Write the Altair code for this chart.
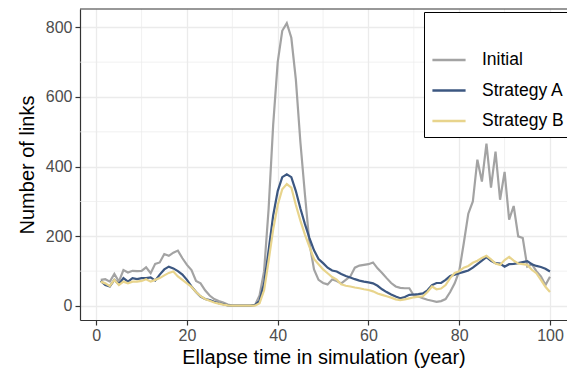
import altair as alt
import pandas as pd

years = list(range(1, 101))

initial = [75, 77, 70, 92, 70, 103, 96, 101, 100, 101,
           111, 94, 121, 125, 149, 144, 153, 159, 137, 118,
           103, 72, 65, 45, 30, 20, 14, 10, 4, 1,
           1, 1, 1, 1, 3, 30, 100, 280, 520, 700,
           790, 812, 770, 650, 470, 320, 180, 105, 75, 66,
           62, 76, 72, 65, 75, 85, 110, 116, 118, 120,
           125, 108, 95, 80, 66, 56, 52, 51, 51, 30,
           27, 22, 18, 15, 12, 14, 20, 40, 65, 100,
           180, 265, 300, 420, 357, 466, 340, 443, 305, 385,
           248, 287, 200, 195, 113, 120, 100, 85, 60, 84]

strategy_a = [72, 60, 56, 75, 63, 80, 70, 80, 77, 80,
              80, 82, 73, 90, 105, 113, 108, 100, 90, 75,
              56, 40, 27, 20, 17, 12, 8, 5, 2, 1,
              1, 1, 1, 1, 3, 15, 65, 160, 260, 330,
              370, 378, 370, 330, 280, 235, 195, 160, 135, 123,
              110, 102, 99, 92, 86, 82, 77, 73, 70, 68,
              65, 58, 48, 40, 33, 27, 22, 26, 32, 33,
              34, 36, 45, 60, 66, 66, 75, 86, 90, 94,
              98, 102, 110, 120, 130, 140, 130, 123, 122, 113,
              120, 121, 123, 126, 129, 120, 115, 112, 107, 99]

strategy_b = [70, 65, 57, 75, 60, 70, 65, 70, 70, 72,
              77, 70, 75, 80, 88, 95, 99, 85, 75, 65,
              55, 40, 28, 20, 15, 10, 7, 4, 2, 1,
              1, 1, 1, 1, 1, 8, 45, 130, 220, 290,
              335, 350, 340, 290, 245, 205, 170, 135, 120, 105,
              94, 83, 76, 62, 58, 56, 53, 51, 48, 46,
              42, 36, 32, 28, 24, 19, 17, 19, 22, 25,
              27, 28, 40, 56, 48, 50, 60, 80, 95, 100,
              110, 115, 124, 130, 138, 144, 134, 122, 118, 132,
              141, 130, 122, 120, 118, 104, 94, 75, 55, 40]

series_names = ["Initial", "Strategy A", "Strategy B"]
series_colors = ["#A3A3A3", "#3C5781", "#E8D48C"]

x_major = [0, 20, 40, 60, 80, 100]
x_minor = [10, 30, 50, 70, 90]
y_major = [0, 200, 400, 600, 800]
y_minor = [100, 300, 500, 700]

rows = []
for name, vals in zip(series_names, [initial, strategy_a, strategy_b]):
    for t, v in zip(years, vals):
        rows.append({"year": t, "links": v, "series": name})
df = pd.DataFrame(rows)

W, H = 487, 311
xscale = alt.Scale(domain=[-3.57, 103.75], nice=False, zero=False)
yscale = alt.Scale(domain=[-40.2, 852.6], nice=False, zero=False)

minor_x = alt.Chart(pd.DataFrame({"v": x_minor})).mark_rule(
    color="#EBEBEB", strokeWidth=0.7
).encode(x=alt.X("v:Q", scale=xscale))

minor_y = alt.Chart(pd.DataFrame({"v": y_minor})).mark_rule(
    color="#EBEBEB", strokeWidth=0.7
).encode(y=alt.Y("v:Q", scale=yscale))

lines = alt.Chart(df).mark_line(strokeWidth=2.2, clip=True).encode(
    x=alt.X("year:Q", scale=xscale,
            axis=alt.Axis(values=x_major, title="Ellapse time in simulation (year)")),
    y=alt.Y("links:Q", scale=yscale,
            axis=alt.Axis(values=y_major, title="Number of links")),
    color=alt.Color("series:N",
                    scale=alt.Scale(domain=series_names, range=series_colors),
                    legend=alt.Legend(
                        title=" ", orient="none", legendX=344, legendY=3,
                        symbolType="stroke", symbolSize=1100, symbolStrokeWidth=2.5,
                        labelFontSize=17.5, labelColor="#000000", labelOffset=15,
                        titleFontSize=17, titlePadding=6,
                        padding=7, rowPadding=3.5,
                        strokeColor="#000000", fillColor="#FFFFFF",
                    )),
    order=alt.Order("series:N"),
)

top_border = alt.Chart(pd.DataFrame({"a": [0]})).mark_rule(
    color="#333333", strokeWidth=1.2
).encode(x=alt.value(0), x2=alt.value(W), y=alt.value(0))

chart = alt.layer(minor_x, minor_y, lines, top_border).properties(
    width=W, height=H,
    autosize=alt.AutoSizeParams(type="none"),
    padding={"left": 80, "top": 9, "right": 0, "bottom": 56},
).configure_view(stroke=None).configure_axis(
    labelFont="Liberation Sans", titleFont="Liberation Sans",
    labelFontSize=16, labelColor="#4D4D4D",
    titleFontSize=20, titleColor="#000000", titleFontWeight="normal",
    gridColor="#EBEBEB", gridWidth=1.3,
    domainColor="#333333", domainWidth=1.2,
    tickColor="#333333", tickSize=5, tickWidth=1.2,
).configure_axisX(
    labelPadding=2, titlePadding=4,
).configure_axisY(
    labelPadding=3, titlePadding=8,
).configure_legend(
    labelFont="Liberation Sans", titleFont="Liberation Sans",
)

chart.save("out.html", embed_options={"renderer": "svg", "actions": False})
